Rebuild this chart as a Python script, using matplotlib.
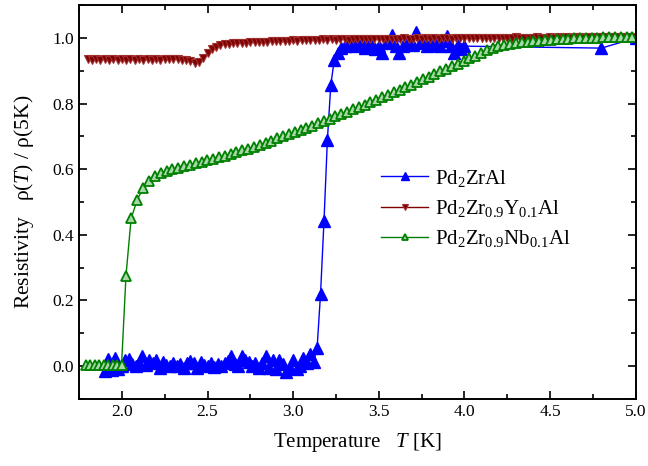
import matplotlib
matplotlib.use('Agg')
import matplotlib.pyplot as plt
from matplotlib.ticker import MultipleLocator

plt.rcParams['font.family'] = ['Liberation Serif', 'DejaVu Serif']
plt.rcParams['mathtext.fontset'] = 'custom'
plt.rcParams['mathtext.rm'] = 'Liberation Serif'
plt.rcParams['mathtext.it'] = 'Liberation Serif:italic'

# Pd2ZrAl
blue_T = [1.90, 1.92, 1.94, 1.96, 1.98, 2.00, 2.02, 2.04, 2.06, 2.08,
          2.10, 2.12, 2.14, 2.16, 2.18, 2.20, 2.22, 2.24, 2.26, 2.28,
          2.30, 2.32, 2.34, 2.36, 2.38, 2.40, 2.42, 2.44, 2.46, 2.48,
          2.50, 2.52, 2.54, 2.56, 2.58, 2.60, 2.62, 2.64, 2.66, 2.68,
          2.70, 2.72, 2.74, 2.76, 2.78, 2.80, 2.82, 2.84, 2.86, 2.88,
          2.90, 2.92, 2.94, 2.96, 2.98, 3.00, 3.02, 3.04, 3.06, 3.08,
          3.10, 3.12, 3.14, 3.16, 3.18, 3.20, 3.22, 3.24, 3.26, 3.28,
          3.30, 3.32, 3.34, 3.36, 3.38, 3.40, 3.42, 3.44, 3.46, 3.48,
          3.50, 3.52, 3.54, 3.56, 3.58, 3.60, 3.62, 3.64, 3.66, 3.68,
          3.70, 3.72, 3.74, 3.76, 3.78, 3.80, 3.82, 3.84, 3.86, 3.88,
          3.90, 3.92, 3.94, 3.96, 3.98, 4.00, 4.80, 5.00]
blue_R = [-0.015, 0.022, -0.012, 0.025, -0.010, 0.000, 0.020, 0.022, 0.005, 0.000,
          0.010, 0.030, 0.002, 0.018, 0.008, 0.020, -0.005, 0.012, 0.002, 0.000,
          0.008, 0.000, 0.005, -0.005, 0.010, 0.015, 0.010, -0.005, 0.012, 0.002,
          0.000, 0.008, -0.002, 0.005, 0.000, 0.010, 0.015, 0.030, 0.005, 0.000,
          0.032, 0.020, 0.012, 0.000, 0.008, -0.005, 0.010, 0.030, -0.005, 0.018,
          -0.008, 0.020, 0.005, -0.018, -0.005, 0.020, -0.010, 0.000, 0.025, 0.010,
          0.036, 0.012, 0.056, 0.221, 0.441, 0.690, 0.858, 0.932, 0.955, 0.968,
          0.975, 0.980, 0.990, 0.975, 0.985, 0.990, 0.970, 0.985, 0.980, 0.965,
          0.975, 0.955, 0.985, 0.990, 1.008, 0.975, 0.955, 0.975, 0.985, 0.990,
          0.980, 1.017, 0.985, 0.990, 0.975, 0.980, 0.995, 0.985, 0.975, 0.990,
          1.005, 0.975, 0.955, 0.980, 0.965, 0.975, 0.969, 1.000]

# Pd2Zr0.9Y0.1Al
red_T = [1.800, 1.825, 1.850, 1.875, 1.900, 1.925, 1.950, 1.975,
         2.000, 2.025, 2.050, 2.075, 2.100, 2.125, 2.150, 2.175,
         2.200, 2.225, 2.250, 2.275, 2.300, 2.325, 2.350, 2.375,
         2.400, 2.425, 2.450, 2.475, 2.500, 2.525, 2.550, 2.575,
         2.600, 2.625, 2.650, 2.675, 2.700, 2.725, 2.750, 2.775,
         2.800, 2.825, 2.850, 2.875, 2.900, 2.925, 2.950, 2.975,
         3.000, 3.025, 3.050, 3.075, 3.100, 3.125, 3.150, 3.175,
         3.200, 3.225, 3.250, 3.275, 3.300, 3.325, 3.350, 3.375,
         3.400, 3.425, 3.450, 3.475, 3.500, 3.525, 3.550, 3.575,
         3.600, 3.625, 3.650, 3.675, 3.700, 3.725, 3.750, 3.775,
         3.800, 3.825, 3.850, 3.875, 3.900, 3.925, 3.950, 3.975,
         4.000, 4.025, 4.050, 4.075, 4.100, 4.125, 4.150, 4.175,
         4.200, 4.225, 4.250, 4.275, 4.300, 4.325, 4.350, 4.375,
         4.400, 4.425, 4.450, 4.475, 4.500, 4.525, 4.550, 4.575,
         4.600, 4.625, 4.650, 4.675, 4.700, 4.725, 4.750, 4.775,
         4.800, 4.825, 4.850, 4.875, 4.900, 4.925, 4.950, 4.975,
         5.000]
red_R = [0.936, 0.934, 0.935, 0.933, 0.935, 0.934, 0.936, 0.934,
         0.935, 0.933, 0.935, 0.934, 0.936, 0.934, 0.935, 0.933,
         0.935, 0.934, 0.936, 0.935, 0.937, 0.935, 0.934, 0.932,
         0.931, 0.925, 0.928, 0.938, 0.955, 0.966, 0.973, 0.978,
         0.981, 0.983, 0.984, 0.985, 0.986, 0.986, 0.987, 0.987,
         0.988, 0.988, 0.989, 0.990, 0.990, 0.991, 0.991, 0.992,
         0.993, 0.992, 0.994, 0.993, 0.995, 0.994, 0.995, 0.996,
         0.995, 0.996, 0.994, 0.996, 0.997, 0.995, 0.996, 0.997,
         0.996, 0.997, 0.996, 0.998, 0.997, 0.996, 0.998, 0.997,
         0.998, 0.997, 0.999, 0.998, 0.997, 0.999, 0.998, 0.999,
         0.998, 0.999, 0.998, 1.000, 0.999, 0.998, 1.000, 0.999,
         1.000, 0.999, 1.000, 1.001, 1.000, 0.999, 1.001, 1.000,
         1.001, 1.000, 1.001, 1.000, 1.002, 1.001, 1.000, 1.001,
         1.001, 1.002, 1.001, 1.000, 1.002, 1.001, 1.002, 1.001,
         1.002, 1.001, 1.002, 1.003, 1.001, 1.002, 1.002, 1.003,
         1.002, 1.003, 1.002, 1.003, 1.002, 1.003, 1.003, 1.002,
         1.003]

# Pd2Zr0.9Nb0.1Al
green_T = [1.790, 1.816, 1.842, 1.868, 1.894, 1.920, 1.946, 1.972, 1.998,
           2.024, 2.054, 2.090, 2.125, 2.160, 2.193,
           2.227, 2.261, 2.295, 2.329, 2.363, 2.397, 2.431, 2.465, 2.499, 2.533,
           2.567, 2.601, 2.635, 2.669, 2.703, 2.737, 2.771, 2.805, 2.839, 2.873,
           2.907, 2.941, 2.975, 3.009, 3.043, 3.077, 3.111, 3.145, 3.179, 3.213,
           3.247, 3.281, 3.315, 3.349, 3.383, 3.417, 3.451, 3.485, 3.519, 3.553,
           3.587, 3.621, 3.655, 3.689, 3.723, 3.757, 3.791, 3.825, 3.859, 3.893,
           3.927, 3.961, 3.995, 4.029, 4.063, 4.097, 4.131, 4.165, 4.199, 4.233,
           4.267, 4.301, 4.335, 4.369, 4.403, 4.437, 4.471, 4.505, 4.539, 4.573,
           4.607, 4.641, 4.675, 4.709, 4.743, 4.777, 4.811, 4.845, 4.879, 4.913,
           4.947, 4.981]
green_R = [0.002, 0.003, 0.002, 0.003, 0.002, 0.003, 0.002, 0.003, 0.002,
           0.276, 0.450, 0.507, 0.543, 0.565, 0.578,
           0.587, 0.594, 0.600, 0.605, 0.610, 0.614, 0.618, 0.622, 0.627, 0.631,
           0.636, 0.641, 0.646, 0.651, 0.657, 0.662, 0.668, 0.674, 0.680, 0.687,
           0.694, 0.700, 0.707, 0.713, 0.720, 0.727, 0.733, 0.740, 0.747, 0.754,
           0.761, 0.768, 0.775, 0.782, 0.789, 0.797, 0.804, 0.811, 0.819, 0.826,
           0.834, 0.842, 0.850, 0.858, 0.866, 0.874, 0.882, 0.890, 0.898, 0.906,
           0.914, 0.922, 0.930, 0.938, 0.946, 0.954, 0.962, 0.969, 0.975, 0.979,
           0.982, 0.985, 0.987, 0.989, 0.991, 0.992, 0.994, 0.995, 0.996, 0.997,
           0.998, 0.999, 1.000, 1.000, 1.001, 1.001, 1.002, 1.002, 1.002, 1.003,
           1.003, 1.003]

fig = plt.figure(figsize=(6.48, 4.66), dpi=100)
ax = fig.add_axes([0.122, 0.144, 0.859, 0.845])

ax.plot(blue_T, blue_R, color='#0000FF', lw=1.0, marker='^', ms=8,
        mfc='#0000FF', mec='#0000FF', label=r'Pd$_2$ZrAl')
ax.plot(red_T, red_R, color='#800000', lw=1.0, marker='v', ms=6,
        mfc='#800000', mec='#A03030', mew=0.8,
        label=r'Pd$_2$Zr$_{0.9}$Y$_{0.1}$Al')
ax.plot(green_T, green_R, color='#008000', lw=1.0, marker='^', ms=6.5,
        mfc='#a8d8a8', mec='#008000', mew=1.3,
        label=r'Pd$_2$Zr$_{0.9}$Nb$_{0.1}$Al')

ax.set_xlim(1.75, 5.0)
ax.set_ylim(-0.1, 1.1)
ax.xaxis.set_major_locator(MultipleLocator(0.5))
ax.xaxis.set_minor_locator(MultipleLocator(0.25))
ax.yaxis.set_major_locator(MultipleLocator(0.2))
ax.yaxis.set_minor_locator(MultipleLocator(0.1))
ax.tick_params(which='both', direction='in', top=True, right=True,
               labelsize=12.5, width=1.2)
ax.tick_params(which='major', length=6)
ax.tick_params(which='minor', length=3.5)
for s in ax.spines.values():
    s.set_linewidth(1.4)

ax.set_xlabel(r'Temperature   $T$ [K]', fontsize=15, labelpad=8)
ax.set_ylabel(r'Resistivity   ρ($T$) / ρ(5K)', fontsize=15.5, labelpad=12)

leg = ax.legend(loc='upper left', bbox_to_anchor=(0.508, 0.635), frameon=False,
                fontsize=15, handlelength=2.3, handletextpad=0.3,
                labelspacing=0.45, markerscale=0.65)

fig.savefig('out.png', dpi=100)
